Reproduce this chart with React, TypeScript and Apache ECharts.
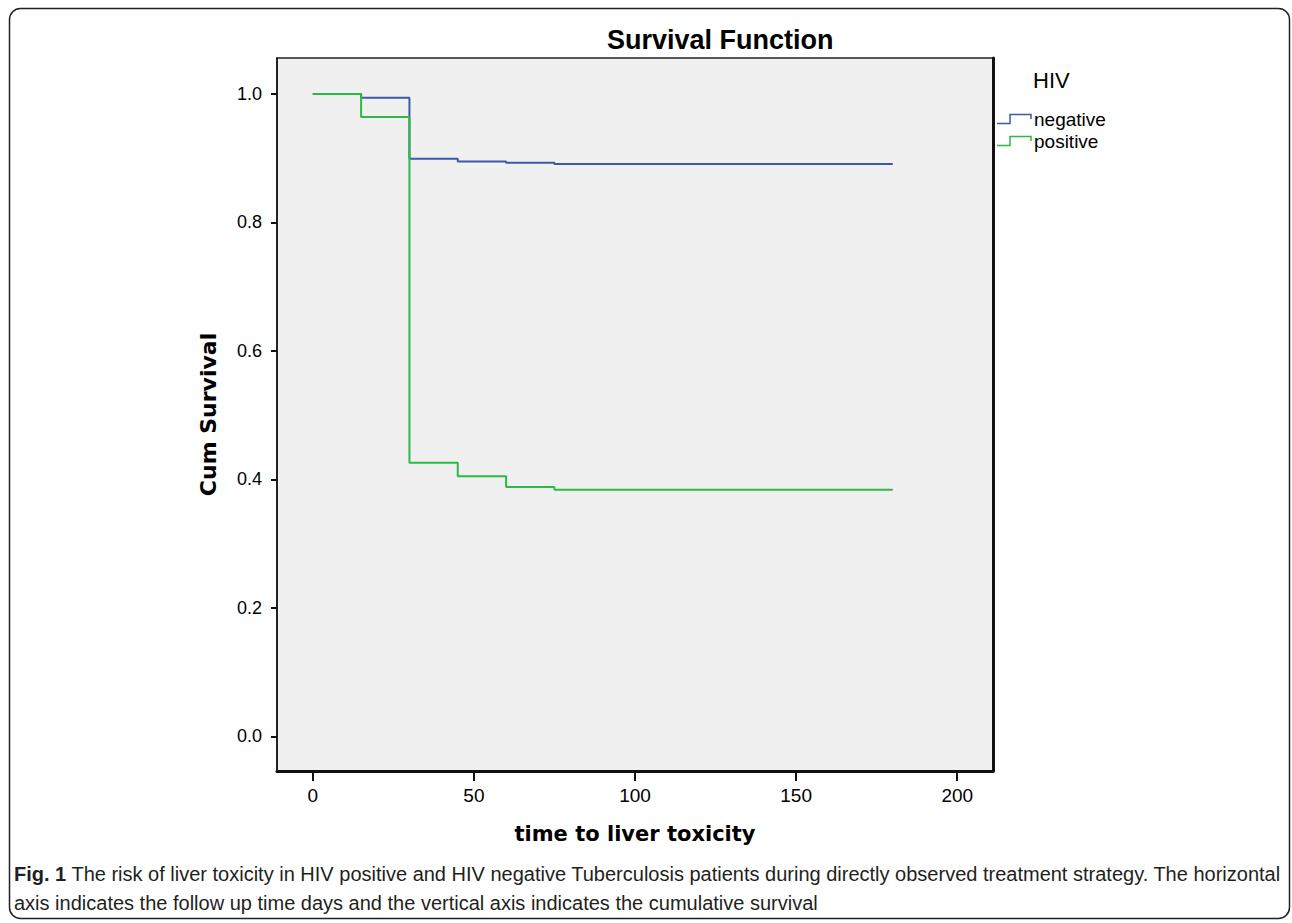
import React, { useEffect, useRef } from "react";
import * as echarts from "echarts";

// ---- data ----
const times = [0, 15, 30, 45, 60, 75, 180];
const negativeSurvival = [1.0, 0.994, 0.899, 0.895, 0.893, 0.891, 0.891];
const positiveSurvival = [1.0, 0.964, 0.426, 0.405, 0.388, 0.384, 0.384];
const xTickValues = [0, 50, 100, 150, 200];
const yTickValues = [0, 0.2, 0.4, 0.6, 0.8, 1.0];
const seriesNames = ["negative", "positive"];
const seriesColors = ["#3E58AC", "#2EB848"];
const legendTitle = "HIV";
const chartTitle = "Survival Function";
const xTitle = "time to liver toxicity";
const yTitle = "Cum Survival";
const captionLine1 =
  "The risk of liver toxicity in HIV positive and HIV negative Tuberculosis patients during directly observed treatment strategy. The horizontal";
const captionLine2 =
  "axis indicates the follow up time days and the vertical axis indicates the cumulative survival";

const FONT = '"Liberation Sans", Arial, sans-serif';
const AXIS_TITLE_FONT = '"DejaVu Sans", Verdana, sans-serif';
const CAPTION_FONT = '"Liberation Sans", Arial, sans-serif';

export default function App() {
  const ref = useRef<HTMLDivElement>(null);

  useEffect(() => {
    document.body.style.margin = "0";
    if (!ref.current) return;
    const chart = echarts.init(ref.current, null, { renderer: "svg" });

    const XMIN = -11.1;
    const XMAX = 211.1;
    const YMIN = -0.054;
    const YMAX = 1.056;

    const legendIcon = (y: number, color: string) => ({
      type: "polyline",
      shape: {
        points: [
          [997, y + 4.5],
          [1010, y + 4.5],
          [1010, y - 4.5],
          [1031, y - 4.5],
          [1031, y],
        ],
      },
      style: { stroke: color, lineWidth: 1.5, fill: "none" },
      silent: true,
    });

    const option: any = {
      animation: false,
      backgroundColor: "#ffffff",
      title: {
        text: chartTitle,
        left: 602,
        top: 21,
        textStyle: {
          fontFamily: FONT,
          fontSize: 27,
          fontWeight: "bold",
          color: "#000",
        },
      },
      grid: {
        left: 277,
        top: 58,
        right: 299,
        bottom: 152,
        show: true,
        backgroundColor: "#f0f0f0",
        borderColor: "#222",
        borderWidth: 1.5,
      },
      xAxis: {
        type: "value",
        min: XMIN,
        max: XMAX,
        name: xTitle,
        nameLocation: "middle",
        nameGap: 52,
        nameTextStyle: {
          fontFamily: AXIS_TITLE_FONT,
          fontSize: 21,
          fontWeight: "bold",
          color: "#000",
        },
        axisLine: { show: true, onZero: false, lineStyle: { color: "#111", width: 3 } },
        axisTick: {
          show: true,
          length: 10,
          inside: false,
          lineStyle: { color: "#111", width: 2 },
          customValues: xTickValues,
        },
        axisLabel: {
          fontFamily: FONT,
          fontSize: 19,
          color: "#000",
          margin: 15,
          customValues: xTickValues,
        },
        splitLine: { show: false },
      },
      yAxis: [
        {
          type: "value",
          min: YMIN,
          max: YMAX,
          name: yTitle,
          nameLocation: "middle",
          nameGap: 58,
          nameRotate: 90,
          nameTextStyle: {
            fontFamily: AXIS_TITLE_FONT,
            fontSize: 22,
            fontWeight: "bold",
            color: "#000",
          },
          axisLine: { show: true, onZero: false, lineStyle: { color: "#111", width: 1.5 } },
          axisTick: {
            show: true,
            length: 6,
            lineStyle: { color: "#111", width: 2 },
            customValues: yTickValues,
          },
          axisLabel: {
            fontFamily: FONT,
            fontSize: 18,
            color: "#000",
            margin: 15,
            customValues: yTickValues,
            formatter: (v: number) => v.toFixed(1),
          },
          splitLine: { show: false },
        },
        {
          type: "value",
          position: "right",
          min: YMIN,
          max: YMAX,
          axisLine: { show: true, onZero: false, lineStyle: { color: "#111", width: 3 } },
          axisTick: { show: false },
          axisLabel: { show: false },
          splitLine: { show: false },
        },
      ],
      series: [
        {
          name: seriesNames[0],
          type: "line",
          step: "end",
          showSymbol: false,
          symbol: "none",
          color: seriesColors[0],
          lineStyle: { color: seriesColors[0], width: 2 },
          data: times.map((t, i) => [t, negativeSurvival[i]]),
          z: 3,
        },
        {
          name: seriesNames[1],
          type: "line",
          step: "end",
          showSymbol: false,
          symbol: "none",
          color: seriesColors[1],
          lineStyle: { color: seriesColors[1], width: 2 },
          data: times.map((t, i) => [t, positiveSurvival[i]]),
          z: 4,
        },
      ],
      graphic: [
        {
          type: "rect",
          shape: { x: 9.5, y: 8.5, width: 1280, height: 910, r: 11 },
          style: { fill: "none", stroke: "#222", lineWidth: 1.5 },
          silent: true,
          z: -1,
        },
        {
          type: "text",
          x: 1033,
          y: 80,
          style: {
            text: legendTitle,
            fontFamily: FONT,
            fontSize: 22,
            fill: "#000",
            textVerticalAlign: "middle",
          },
        },
        legendIcon(119, seriesColors[0]),
        {
          type: "text",
          x: 1034,
          y: 119,
          style: {
            text: seriesNames[0],
            fontFamily: FONT,
            fontSize: 19,
            fill: "#000",
            textVerticalAlign: "middle",
          },
        },
        legendIcon(141, seriesColors[1]),
        {
          type: "text",
          x: 1034,
          y: 141,
          style: {
            text: seriesNames[1],
            fontFamily: FONT,
            fontSize: 19,
            fill: "#000",
            textVerticalAlign: "middle",
          },
        },
        {
          type: "text",
          x: 14,
          y: 874,
          style: {
            text: "{b|Fig. 1} " + captionLine1,
            fontFamily: CAPTION_FONT,
            fontSize: 20,
            fill: "#231f20",
            textVerticalAlign: "middle",
            rich: {
              b: {
                fontFamily: CAPTION_FONT,
                fontSize: 20,
                fontWeight: "bold",
                fill: "#231f20",
              },
            },
          },
        },
        {
          type: "text",
          x: 14,
          y: 903,
          style: {
            text: captionLine2,
            fontFamily: CAPTION_FONT,
            fontSize: 20,
            fill: "#231f20",
            textVerticalAlign: "middle",
          },
        },
      ],
    };

    chart.setOption(option);
    return () => chart.dispose();
  }, []);

  return (
    <div
      ref={ref}
      style={{ position: "absolute", left: 0, top: 0, width: 1292, height: 923 }}
    />
  );
}
